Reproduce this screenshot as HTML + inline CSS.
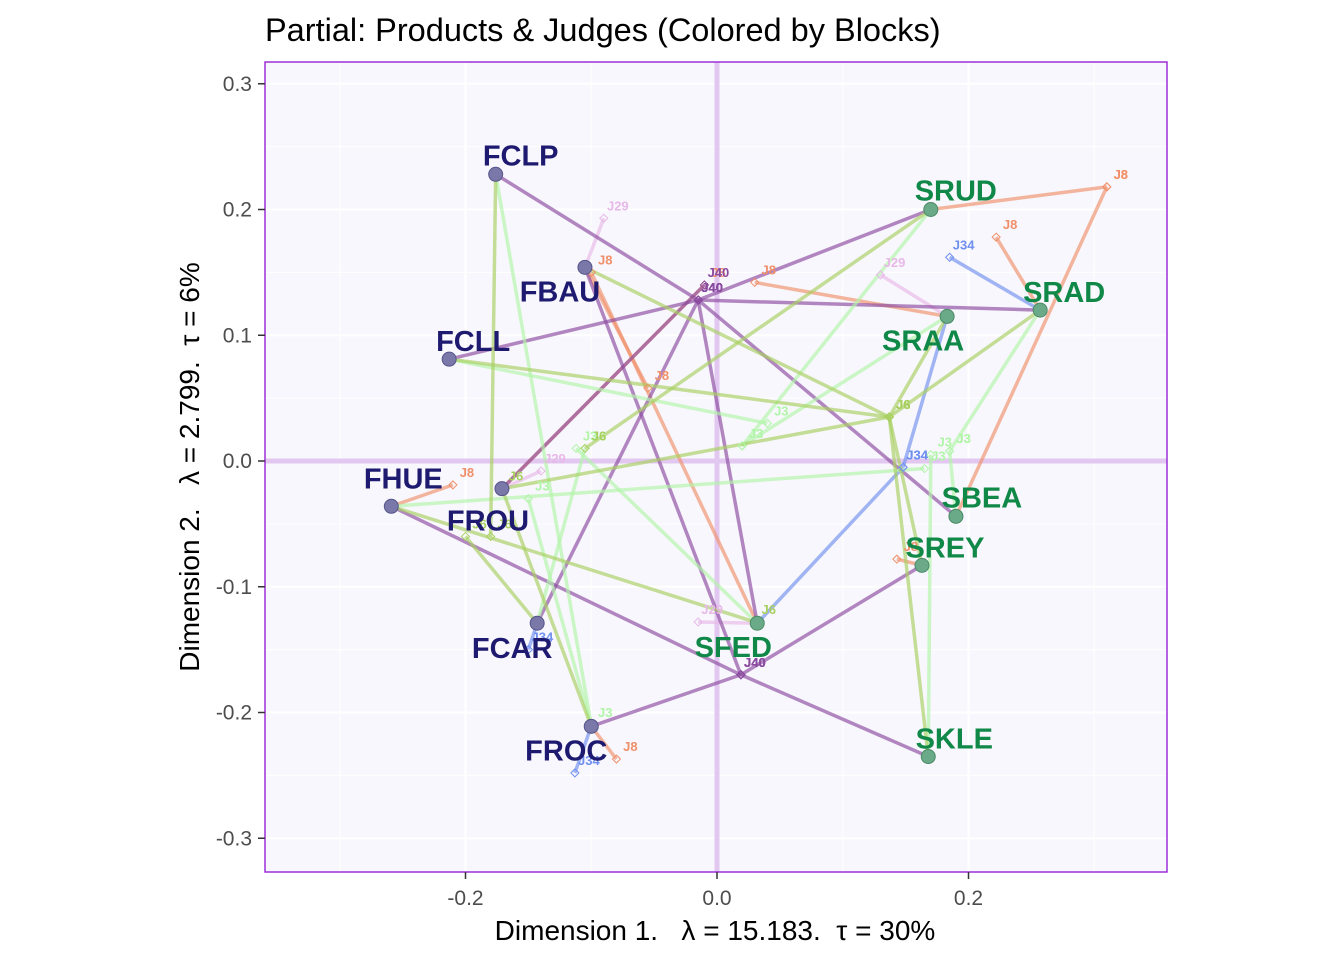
<!DOCTYPE html>
<html><head><meta charset="utf-8"><style>
html,body{margin:0;padding:0;background:#fff;}
svg{display:block;font-family:"Liberation Sans",sans-serif;}
</style></head><body>
<svg id="chart" width="1344" height="960" viewBox="0 0 1344 960">
<text x="265" y="41" font-size="32.5" fill="#000">Partial: Products &amp; Judges (Colored by Blocks)</text>
<rect x="265" y="62" width="902" height="810" fill="#f8f7fd" stroke="none"/>
<g id="grid"></g>
<g id="axes0"></g>
<g id="lines"></g>
<g id="pts"></g>
<g id="labels"></g>
<rect x="265" y="62" width="902" height="810" fill="none" stroke="#9b30d8" stroke-width="1.5"/>
<g id="ticks"></g>
<text x="715" y="940" font-size="28" text-anchor="middle" fill="#000" xml:space="preserve">Dimension 1.   λ = 15.183.  τ = 30%</text>
<text x="0" y="0" font-size="28" text-anchor="middle" fill="#000" xml:space="preserve" transform="translate(199,467) rotate(-90)">Dimension 2.   λ = 2.799.  τ = 6%</text>
</svg>
<script>
const products=["FCLP","FBAU","FCLL","FHUE","FROU","FCAR","FROC","SRUD","SRAD","SRAA","SBEA","SREY","SFED","SKLE"];
const prodX=[-0.176,-0.105,-0.213,-0.259,-0.171,-0.143,-0.100,0.170,0.257,0.183,0.190,0.163,0.032,0.168];
const prodY=[0.228,0.154,0.081,-0.036,-0.022,-0.129,-0.211,0.200,0.120,0.115,-0.044,-0.083,-0.129,-0.235];
const labelDx=[25,-25,24,12,-14,-25,-25,25,24,-24,26,23,-24,26];
const labelDy=[-19,24,-18,-28,32,25,24,-19,-18,24,-19,-18,24,-18];
const judges=["J8","J29","J34","J40","J3","J6"];
const judgeColors=["#f0906a","#e8b8e8","#7090f0","#8a4aa0","#b0f5a8","#a8d060"];
const partialJ8=[[3,-0.210,-0.019],[4,-0.010,0.140],[6,-0.080,-0.237],[12,-0.100,0.150],[9,0.030,0.142],[7,0.310,0.218],[10,0.310,0.218],[8,0.222,0.178],[11,0.143,-0.078],[1,-0.055,0.058]];
const partialJ29=[[1,-0.090,0.193],[9,0.130,0.148],[4,-0.140,-0.008],[12,-0.015,-0.128]];
const partialJ34=[[8,0.185,0.162],[12,0.148,-0.005],[9,0.148,-0.005],[6,-0.113,-0.248],[5,-0.150,-0.150]];
const partialJ40=[[0,-0.015,0.128],[2,-0.015,0.128],[5,-0.015,0.128],[12,-0.015,0.128],[7,-0.015,0.128],[8,-0.015,0.128],[10,-0.015,0.128],[4,-0.010,0.140],[1,0.019,-0.170],[6,0.019,-0.170],[11,0.019,-0.170],[3,0.019,-0.170],[13,0.019,-0.170]];
const partialJ3=[[7,0.020,0.012],[8,0.185,0.008],[10,0.185,0.008],[12,-0.112,0.010],[2,0.040,0.030],[5,-0.105,0.010],[3,0.165,-0.006],[13,0.170,0.005],[0,-0.100,-0.210],[6,-0.150,-0.030],[9,0.020,0.012]];
const partialJ6=[[2,0.137,0.035],[1,0.137,0.035],[4,0.137,0.035],[13,0.137,0.035],[9,0.137,0.035],[3,0.030,-0.128],[5,-0.200,-0.060],[6,-0.171,-0.022],[0,-0.180,-0.060],[11,0.137,0.035],[7,-0.105,0.010],[8,0.137,0.035]];
const partials=[partialJ8,partialJ29,partialJ34,partialJ40,partialJ3,partialJ6];
const xTicks=[-0.2,0.0,0.2];
const yTicks=[0.3,0.2,0.1,0.0,-0.1,-0.2,-0.3];
const xTickLabels=["-0.2","0.0","0.2"];
const yTickLabels=["0.3","0.2","0.1","0.0","-0.1","-0.2","-0.3"];

const NS="http://www.w3.org/2000/svg";
const X=v=>717+v*1257.5, Y=v=>461-v*1257.5;
function mk(t,a,p){const e=document.createElementNS(NS,t);for(const k in a)e.setAttribute(k,a[k]);document.getElementById(p).appendChild(e);return e;}
[-0.3,-0.1,0.1,0.3].forEach(v=>{const e=mk('line',{x1:X(v),x2:X(v),y1:62,y2:872,stroke:'#ffffff','stroke-width':1},'grid');});
[-0.25,-0.15,-0.05,0.05,0.15,0.25].forEach(v=>{const e=mk('line',{x1:265,x2:1167,y1:Y(v),y2:Y(v),stroke:'#ffffff','stroke-width':1},'grid');});
xTicks.forEach(v=>{const e=mk('line',{x1:X(v),x2:X(v),y1:62,y2:872,stroke:'#ffffff','stroke-width':2},'grid');});
yTicks.forEach(v=>{const e=mk('line',{x1:265,x2:1167,y1:Y(v),y2:Y(v),stroke:'#ffffff','stroke-width':2},'grid');});
let e=mk('line',{x1:X(0),x2:X(0),y1:62,y2:872,stroke:'#e2c8f0','stroke-width':5},'axes0');

e=mk('line',{x1:265,x2:1167,y1:Y(0),y2:Y(0),stroke:'#e2c8f0','stroke-width':5},'axes0');

xTicks.forEach((v,i)=>{let t=mk('line',{x1:X(v),x2:X(v),y1:872,y2:879,stroke:'#333','stroke-width':1.5},'ticks');
 let l=mk('text',{x:X(v),y:905,'font-size':21,'text-anchor':'middle',fill:'#4d4d4d'},'ticks');l.textContent=xTickLabels[i];});
yTicks.forEach((v,i)=>{let t=mk('line',{x1:258,x2:265,y1:Y(v),y2:Y(v),stroke:'#333','stroke-width':1.5},'ticks');
 let l=mk('text',{x:252,y:Y(v)+7,'font-size':21,'text-anchor':'end',fill:'#4d4d4d'},'ticks');l.textContent=yTickLabels[i];});
partials.forEach((arr,j)=>{arr.forEach(p=>{const pi=p[0];
 const ln=mk('line',{x1:X(prodX[pi]),y1:Y(prodY[pi]),x2:X(p[1]),y2:Y(p[2]),stroke:judgeColors[j],'stroke-width':3.5,'stroke-opacity':0.65},'lines');
 
 
 const px=X(p[1]),py=Y(p[2]);
 const d=mk('polygon',{points:`${px},${py-4} ${px+4},${py} ${px},${py+4} ${px-4},${py}`,fill:'none',stroke:judgeColors[j],'stroke-width':1},'pts');
 
 
 const t=mk('text',{x:px+14,y:py-8,'font-size':13,'font-weight':'bold',fill:judgeColors[j],'text-anchor':'middle'},'labels');
 t.textContent=judges[j];
 
 
});});
products.forEach((n,i)=>{const isS=n[0]==='S';
 const c=mk('circle',{cx:X(prodX[i]),cy:Y(prodY[i]),r:7,fill:isS?'#6aaa88':'#7a78a8',stroke:isS?'#4a8a66':'#55558a','stroke-width':1},'pts');
 
 
 const t=mk('text',{x:X(prodX[i])+labelDx[i],y:Y(prodY[i])+labelDy[i]+10,'font-size':29,'font-weight':'bold','text-anchor':'middle',fill:isS?'#108848':'#1e1a70'},'labels');
 t.textContent=n;
 
 
});
</script>
</body></html>
